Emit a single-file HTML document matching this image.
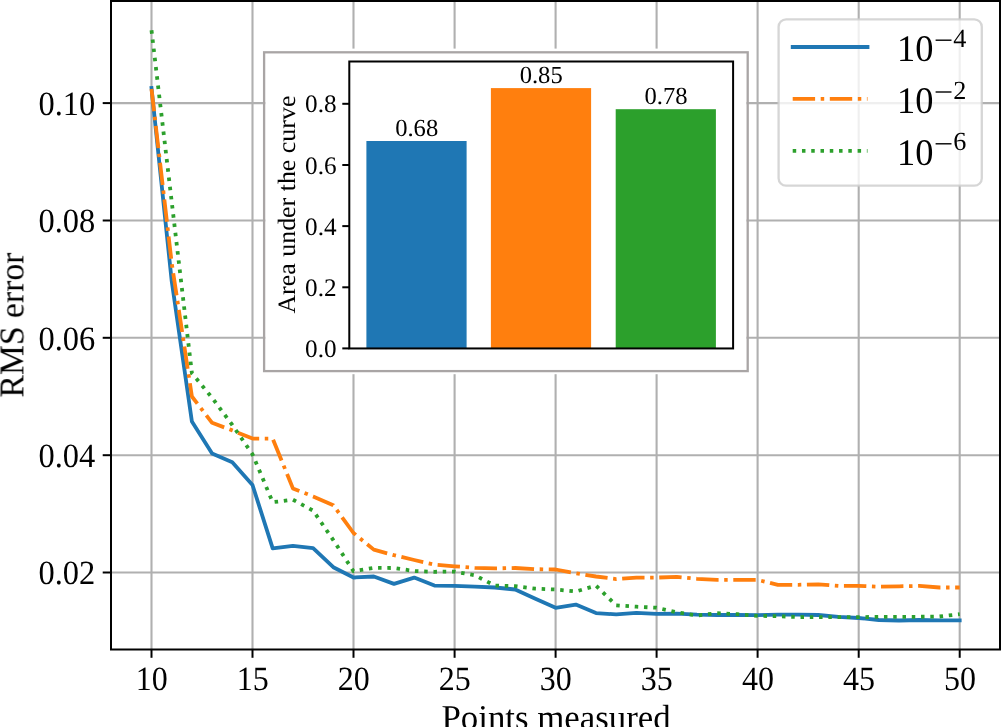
<!DOCTYPE html>
<html><head><meta charset="utf-8"><title>RMS error</title>
<style>
html,body{margin:0;padding:0;background:#fff;}
body{width:1001px;height:727px;overflow:hidden;font-family:"Liberation Serif",serif;}
svg{display:block;position:absolute;left:0;top:0;}
text{font-family:"Liberation Serif",serif;fill:#000;text-rendering:geometricPrecision;opacity:0.999;}
</style></head><body>
<svg width="1001" height="727" viewBox="0 0 1001 727">
<rect x="0" y="0" width="1001" height="727" fill="#ffffff"/>
<g opacity="0.999">

<g stroke="#b0b0b0" stroke-width="2.1" fill="none">
<line x1="151.5" y1="1.0" x2="151.5" y2="649.5"/>
<line x1="252.5" y1="1.0" x2="252.5" y2="649.5"/>
<line x1="353.5" y1="1.0" x2="353.5" y2="649.5"/>
<line x1="454.6" y1="1.0" x2="454.6" y2="649.5"/>
<line x1="555.6" y1="1.0" x2="555.6" y2="649.5"/>
<line x1="656.6" y1="1.0" x2="656.6" y2="649.5"/>
<line x1="757.6" y1="1.0" x2="757.6" y2="649.5"/>
<line x1="858.7" y1="1.0" x2="858.7" y2="649.5"/>
<line x1="959.7" y1="1.0" x2="959.7" y2="649.5"/>
<line x1="111.0" y1="103.1" x2="1000.0" y2="103.1"/>
<line x1="111.0" y1="220.5" x2="1000.0" y2="220.5"/>
<line x1="111.0" y1="337.8" x2="1000.0" y2="337.8"/>
<line x1="111.0" y1="455.2" x2="1000.0" y2="455.2"/>
<line x1="111.0" y1="572.5" x2="1000.0" y2="572.5"/>
</g>
<g fill="none" stroke-width="3.8" stroke-linejoin="round">
<polyline stroke="#1f77b4" stroke-linecap="square" points="151.5,88.0 171.7,281.0 191.9,421.5 212.1,453.5 232.3,462.3 252.5,485.0 272.7,548.3 292.9,545.9 313.1,548.2 333.3,567.2 353.5,577.5 373.8,576.5 394.0,583.9 414.2,577.6 434.4,585.6 454.6,585.9 474.8,586.7 495.0,587.5 515.2,589.5 535.4,598.7 555.6,607.8 575.8,604.6 596.0,613.1 616.2,614.4 636.4,612.8 656.6,613.9 676.8,613.6 697.0,614.7 717.2,615.0 737.4,615.0 757.6,615.2 777.9,614.7 798.1,614.7 818.3,615.0 838.5,616.8 858.7,618.0 878.9,620.0 899.1,620.5 919.3,620.0 939.5,620.4 959.7,620.3"/>
<polyline stroke="#ff7f0e" stroke-dasharray="22.40 5.60 3.50 5.60" points="151.5,89.0 171.7,263.0 191.9,396.5 212.1,422.8 232.3,430.4 252.5,438.6 272.7,438.6 292.9,488.4 313.1,496.4 333.3,505.2 353.5,533.0 373.8,549.6 394.0,555.2 414.2,560.0 434.4,564.6 454.6,566.3 474.8,567.9 495.0,568.4 515.2,568.0 535.4,569.2 555.6,569.5 575.8,573.2 596.0,576.5 616.2,579.1 636.4,577.6 656.6,577.6 676.8,576.8 697.0,578.8 717.2,579.9 737.4,579.9 757.6,579.9 777.9,584.8 798.1,584.8 818.3,584.3 838.5,585.9 858.7,585.9 878.9,586.7 899.1,586.3 919.3,585.9 939.5,587.5 959.7,587.5"/>
<polyline stroke="#2ca02c" stroke-dasharray="3.50 5.77" points="151.5,30.2 171.7,201.7 191.9,373.2 212.1,397.8 232.3,425.0 252.5,454.3 272.7,502.2 292.9,499.7 313.1,510.6 333.3,540.1 353.5,571.2 373.8,567.9 394.0,568.0 414.2,571.0 434.4,571.8 454.6,571.6 474.8,575.2 495.0,585.6 515.2,586.1 535.4,588.7 555.6,589.5 575.8,591.5 596.0,585.7 616.2,605.3 636.4,606.7 656.6,607.7 676.8,612.3 697.0,615.5 717.2,613.1 737.4,614.2 757.6,615.8 777.9,616.2 798.1,617.0 818.3,617.1 838.5,617.1 858.7,617.1 878.9,616.9 899.1,616.8 919.3,616.8 939.5,616.5 959.7,614.2"/>
</g>
<g stroke="#000" stroke-width="2">
<line x1="151.5" y1="649.5" x2="151.5" y2="657.8"/>
<line x1="252.5" y1="649.5" x2="252.5" y2="657.8"/>
<line x1="353.5" y1="649.5" x2="353.5" y2="657.8"/>
<line x1="454.6" y1="649.5" x2="454.6" y2="657.8"/>
<line x1="555.6" y1="649.5" x2="555.6" y2="657.8"/>
<line x1="656.6" y1="649.5" x2="656.6" y2="657.8"/>
<line x1="757.6" y1="649.5" x2="757.6" y2="657.8"/>
<line x1="858.7" y1="649.5" x2="858.7" y2="657.8"/>
<line x1="959.7" y1="649.5" x2="959.7" y2="657.8"/>
<line x1="102.7" y1="103.1" x2="111.0" y2="103.1"/>
<line x1="102.7" y1="220.5" x2="111.0" y2="220.5"/>
<line x1="102.7" y1="337.8" x2="111.0" y2="337.8"/>
<line x1="102.7" y1="455.2" x2="111.0" y2="455.2"/>
<line x1="102.7" y1="572.5" x2="111.0" y2="572.5"/>
</g>
<rect x="111.0" y="1.0" width="889.0" height="648.5" fill="none" stroke="#000" stroke-width="2"/>
<text x="151.7" y="689.6" font-size="34" text-anchor="middle" textLength="32" lengthAdjust="spacingAndGlyphs">10</text>
<text x="252.7" y="689.6" font-size="34" text-anchor="middle" textLength="32" lengthAdjust="spacingAndGlyphs">15</text>
<text x="353.7" y="689.6" font-size="34" text-anchor="middle" textLength="32" lengthAdjust="spacingAndGlyphs">20</text>
<text x="454.8" y="689.6" font-size="34" text-anchor="middle" textLength="32" lengthAdjust="spacingAndGlyphs">25</text>
<text x="555.8" y="689.6" font-size="34" text-anchor="middle" textLength="32" lengthAdjust="spacingAndGlyphs">30</text>
<text x="656.8" y="689.6" font-size="34" text-anchor="middle" textLength="32" lengthAdjust="spacingAndGlyphs">35</text>
<text x="757.9" y="689.6" font-size="34" text-anchor="middle" textLength="32" lengthAdjust="spacingAndGlyphs">40</text>
<text x="858.9" y="689.6" font-size="34" text-anchor="middle" textLength="32" lengthAdjust="spacingAndGlyphs">45</text>
<text x="959.9" y="689.6" font-size="34" text-anchor="middle" textLength="32" lengthAdjust="spacingAndGlyphs">50</text>
<text x="95.3" y="114.8" font-size="34" text-anchor="end" textLength="56.8" lengthAdjust="spacingAndGlyphs">0.10</text>
<text x="95.3" y="232.2" font-size="34" text-anchor="end" textLength="56.8" lengthAdjust="spacingAndGlyphs">0.08</text>
<text x="95.3" y="349.5" font-size="34" text-anchor="end" textLength="56.8" lengthAdjust="spacingAndGlyphs">0.06</text>
<text x="95.3" y="466.9" font-size="34" text-anchor="end" textLength="56.8" lengthAdjust="spacingAndGlyphs">0.04</text>
<text x="95.3" y="584.2" font-size="34" text-anchor="end" textLength="56.8" lengthAdjust="spacingAndGlyphs">0.02</text>
<text x="556.1" y="728.6" font-size="34.85" text-anchor="middle">Points measured</text>
<text transform="translate(23.4,325.1) rotate(-90)" font-size="34.6" text-anchor="middle" textLength="144.8" lengthAdjust="spacingAndGlyphs">RMS error</text>
<rect x="265.3" y="48.6" width="481.2" height="325.6" fill="#ffffff"/>
<rect x="264.1" y="52.3" width="483.6" height="318.8" fill="none" stroke="#a9a5a5" stroke-width="2.3"/>
<rect x="366.4" y="141.0" width="100.2" height="207.5" fill="#1f77b4"/>
<text x="416.7" y="135.6" font-size="24.6" text-anchor="middle">0.68</text>
<rect x="490.9" y="88.1" width="100.2" height="260.3" fill="#ff7f0e"/>
<text x="541.2" y="82.7" font-size="24.6" text-anchor="middle">0.85</text>
<rect x="615.7" y="109.2" width="100.2" height="239.2" fill="#2ca02c"/>
<text x="666.0" y="103.8" font-size="24.6" text-anchor="middle">0.78</text>
<g stroke="#000" stroke-width="2">
<line x1="342.3" y1="348.4" x2="349.3" y2="348.4"/>
<line x1="342.3" y1="287.3" x2="349.3" y2="287.3"/>
<line x1="342.3" y1="226.1" x2="349.3" y2="226.1"/>
<line x1="342.3" y1="165.0" x2="349.3" y2="165.0"/>
<line x1="342.3" y1="103.8" x2="349.3" y2="103.8"/>
</g>
<rect x="349.3" y="61.5" width="383.8" height="286.95" fill="none" stroke="#000" stroke-width="2"/>
<text x="336.6" y="357.1" font-size="25.2" text-anchor="end">0.0</text>
<text x="336.6" y="295.9" font-size="25.2" text-anchor="end">0.2</text>
<text x="336.6" y="234.7" font-size="25.2" text-anchor="end">0.4</text>
<text x="336.6" y="173.6" font-size="25.2" text-anchor="end">0.6</text>
<text x="336.6" y="112.4" font-size="25.2" text-anchor="end">0.8</text>
<text transform="translate(295.4,204.6) rotate(-90)" font-size="25" text-anchor="middle" textLength="218" lengthAdjust="spacingAndGlyphs">Area under the curve</text>
<rect x="778.6" y="19.3" width="203.2" height="166.4" rx="7.5" ry="7.5" fill="#ffffff" fill-opacity="0.8" stroke="#cccccc" stroke-opacity="0.8" stroke-width="2.3"/>
<line x1="792.7" y1="47.0" x2="867.5" y2="47.0" stroke="#1f77b4" stroke-width="3.8" stroke-linecap="square"/>
<text x="897" y="60.9" font-size="37.6" textLength="36.4" lengthAdjust="spacingAndGlyphs">10</text>
<line x1="935.6" y1="40.2" x2="951.5" y2="40.2" stroke="#000" stroke-width="1.4"/>
<text x="953.2" y="46.8" font-size="26.2">4</text>
<line x1="792.7" y1="98.9" x2="867.5" y2="98.9" stroke="#ff7f0e" stroke-width="3.8" stroke-dasharray="22.40 5.60 3.50 5.60"/>
<text x="897" y="112.7" font-size="37.6" textLength="36.4" lengthAdjust="spacingAndGlyphs">10</text>
<line x1="935.6" y1="92.0" x2="951.5" y2="92.0" stroke="#000" stroke-width="1.4"/>
<text x="953.2" y="98.6" font-size="26.2">2</text>
<line x1="792.7" y1="150.9" x2="867.5" y2="150.9" stroke="#2ca02c" stroke-width="3.8" stroke-dasharray="3.50 5.77"/>
<text x="897" y="164.5" font-size="37.6" textLength="36.4" lengthAdjust="spacingAndGlyphs">10</text>
<line x1="935.6" y1="143.8" x2="951.5" y2="143.8" stroke="#000" stroke-width="1.4"/>
<text x="953.2" y="150.4" font-size="26.2">6</text>
</g></svg></body></html>
